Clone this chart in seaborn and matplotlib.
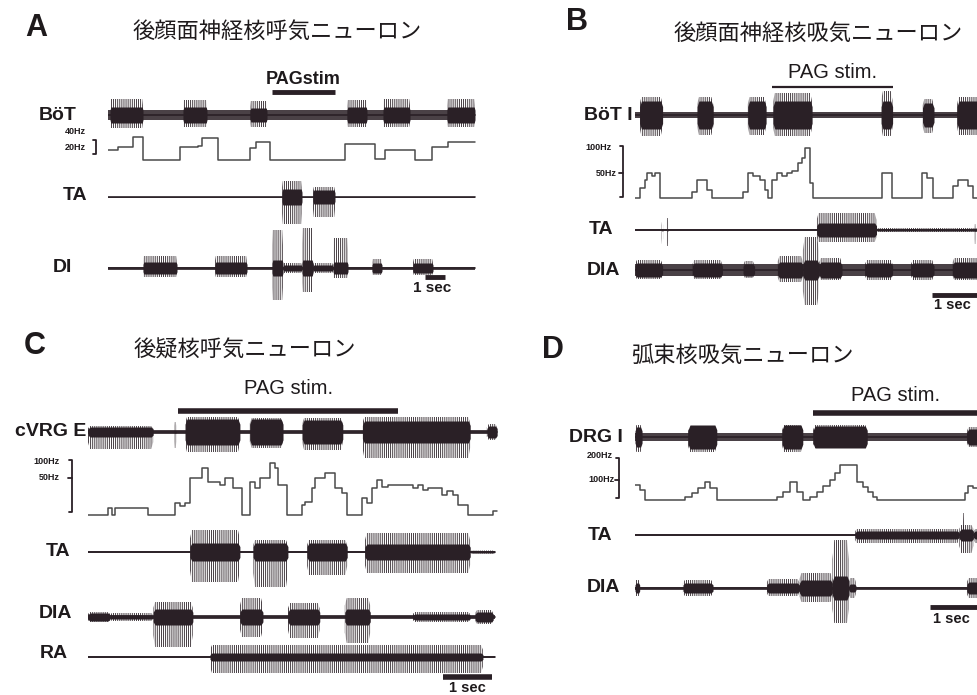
import matplotlib
matplotlib.use("Agg")
import matplotlib.pyplot as plt
import seaborn as sns
import numpy as np

sns.set_theme(style="white")
plt.rcParams['font.family'] = ['Liberation Sans', 'Noto Sans CJK JP', 'DejaVu Sans']
plt.rcParams['hatch.linewidth'] = 0.6

INK = "#2a2026"
GREY = "#4a4a4a"

# ---------------- data (time in s; burst = start, end, body, up, down) -------------
# A: retrofacial expiratory neuron
a_bot = [(0.1, 1.75, 8, 16, 13), (3.75, 4.95, 8, 15, 12), (7.1, 7.95, 7, 14, 12),
         (11.95, 12.95, 8, 15, 12), (13.75, 15.1, 8, 16, 12), (16.95, 18.35, 8, 16, 12)]
a_freq_t = [0, 0.5, 1.25, 1.75, 3.6, 4.5, 4.7, 5.5, 7.1, 7.4, 8.1, 11.85, 13.35,
            13.85, 15.35, 16.2, 17.0, 18.35]
a_freq_hz = [15, 20, 36, 0, 20, 22, 34, 0, 18, 28, 0, 24, 2, 16, 0, 20, 28, 28]
a_ta = [(8.7, 9.7, 8, 16, 27), (10.25, 11.35, 7, 10, 20)]
a_di = [(1.75, 3.45, 6, 12, 9), (5.35, 6.95, 6, 12, 9), (8.2, 8.75, 8, 38, 32),
        (8.75, 9.7, 3, 5, 5), (9.7, 10.25, 8, 40, 24), (10.25, 11.25, 3, 5, 5),
        (11.25, 12.0, 6, 30, 10), (13.2, 13.7, 5, 9, 7), (15.25, 16.25, 5, 9, 7)]
a_stim = (8.2, 11.35)

# B: retrofacial inspiratory neuron
b_bot = [(0.1, 0.6, 14, 18, 21), (1.35, 1.7, 14, 18, 20), (2.45, 2.85, 14, 18, 20),
         (3.0, 3.85, 14, 22, 21), (5.35, 5.6, 14, 24, 21), (6.25, 6.5, 12, 16, 18),
         (7.0, 7.6, 14, 18, 20)]
b_freq_t = [0, 0.11, 0.22, 0.26, 0.37, 0.43, 0.54, 1.24, 1.35, 1.57, 1.67, 2.35, 2.46,
            2.57, 2.72, 2.83, 2.89, 2.98, 3.09, 3.2, 3.3, 3.41, 3.54, 3.63, 3.7, 3.8,
            3.87, 5.37, 5.59, 6.24, 6.35, 6.48, 6.91, 7.02, 7.24, 7.35, 7.6]
b_freq_hz = [0, 20, 36, 50, 44, 50, 0, 13, 36, 16, 0, 12, 50, 44, 36, 16, 0, 36, 50,
             44, 50, 54, 70, 80, 100, 30, 0, 50, 0, 50, 40, 0, 24, 36, 24, 0, 0]
b_ta = [(0.58, 0.61, 1, 8, 14), (0.69, 0.72, 1, 12, 16), (3.95, 5.25, 7, 17, 12),
        (5.25, 7.6, 1, 2, 2), (7.38, 7.41, 1, 6, 14)]
b_dia = [(0.0, 0.6, 7, 10, 9), (1.25, 1.9, 7, 10, 9), (2.35, 2.6, 6, 9, 8),
         (3.1, 3.65, 8, 14, 12), (3.65, 4.0, 10, 33, 35), (4.0, 4.5, 8, 12, 10),
         (5.0, 5.6, 7, 10, 10), (6.0, 6.5, 7, 10, 10), (6.9, 7.6, 8, 12, 10)]
b_stim = (2.98, 5.61)

# C: nucleus ambiguus expiratory neuron
c_vrg = [(0.0, 1.33, 5, 6, 17), (1.76, 1.8, 1, 10, 16), (1.98, 3.1, 13, 15, 20),
         (3.3, 3.98, 13, 14, 16), (4.37, 5.2, 12, 14, 18), (5.6, 7.8, 11, 15, 26),
         (8.14, 8.35, 6, 8, 8)]
c_freq_t = [0, 0.41, 0.49, 0.55, 1.22, 1.78, 1.88, 1.98, 2.08, 2.33, 2.45, 2.69, 2.8,
            2.96, 3.14, 3.31, 3.41, 3.51, 3.71, 3.82, 3.88, 4.06, 4.37, 4.43, 4.57,
            4.63, 4.84, 5.04, 5.18, 5.29, 5.59, 5.69, 5.8, 5.9, 6.0, 6.12, 6.63, 6.73,
            6.84, 6.94, 7.22, 7.33, 7.45, 7.55, 7.76, 8.27, 8.35]
c_freq_hz = [0, 12, 0, 12, 0, 20, 15, 20, 62, 78, 55, 50, 62, 45, 0, 55, 45, 62, 87,
             78, 50, 0, 17, 22, 45, 62, 70, 45, 36, 0, 28, 20, 45, 58, 47, 50, 45, 50,
             42, 45, 33, 40, 33, 17, 0, 6, 6]
c_ta = [(2.08, 3.1, 9, 22, 30), (3.37, 4.08, 9, 12, 35), (4.47, 5.29, 9, 12, 23),
        (5.65, 7.8, 8, 19, 21), (7.8, 8.3, 1, 1.5, 1.5)]
c_dia = [(0.0, 0.45, 4, 5, 5), (0.45, 1.33, 2, 4, 4), (1.33, 2.14, 8, 15, 30),
         (3.1, 3.57, 8, 19, 20), (4.08, 4.73, 8, 14, 21), (5.24, 5.76, 8, 19, 26),
         (6.63, 7.8, 3, 5, 5), (7.9, 8.27, 5, 7, 7)]
c_ra = [(2.49, 8.06, 4, 12, 16)]
c_stim = (1.84, 6.33)

# D: solitary tract nucleus inspiratory neuron
d_drg = [(0.0, 0.15, 10, 12, 15), (1.13, 1.74, 12, 10, 15), (3.13, 3.57, 12, 12, 15),
         (3.79, 4.94, 11, 12, 11), (7.06, 7.6, 8, 10, 10)]
d_freq_t = [0, 0.11, 0.21, 1.06, 1.21, 1.34, 1.49, 1.6, 1.74, 3.02, 3.15, 3.3, 3.45,
            3.57, 3.72, 3.87, 4.0, 4.15, 4.26, 4.36, 4.72, 4.85, 4.96, 5.06, 5.15,
            7.02, 7.09, 7.19, 7.6]
d_freq_hz = [75, 50, 0, 17, 33, 58, 88, 58, 0, 17, 42, 88, 42, 0, 17, 42, 70, 100,
             133, 175, 92, 67, 42, 17, 0, 33, 70, 58, 58]
d_ta = [(4.68, 6.9, 4, 6, 8), (6.9, 7.2, 6, 10, 18), (6.98, 7.01, 1, 22, 6),
        (7.2, 7.6, 4, 6, 8)]
d_dia = [(0.0, 0.1, 5, 8, 8), (1.02, 1.66, 5, 8, 8), (2.8, 3.5, 5, 9, 8),
         (3.5, 4.2, 8, 15, 14), (4.2, 4.55, 12, 48, 35), (4.55, 4.7, 4, 10, 10),
         (7.06, 7.6, 6, 10, 10)]
d_stim = (3.79, 7.6)

# ---------------- figure ----------------
W, H = 977, 695
fig = plt.figure(figsize=(W / 100, H / 100), dpi=100)
fig.patch.set_facecolor("white")


def px(x, y):
    return x / W, 1 - y / H


def panel_axes(x0, x1, pps, top, bottom):
    ax = fig.add_axes([x0 / W, 1 - bottom / H, (x1 - x0) / W, (bottom - top) / H])
    ax.set_xlim(0, (x1 - x0) / pps)
    ax.set_ylim(bottom, top)
    ax.axis("off")
    return ax


def trace(ax, row, t_end, base, bursts):
    sns.lineplot(x=[0, t_end], y=[row, row], ax=ax, color=INK, lw=1.2,
                 estimator=None, sort=False)
    ax.fill_between([0, t_end], row - base, row + base, color=INK, lw=0, alpha=0.85)
    for t0, t1, body, up, down in bursts:
        r = min(0.04, (t1 - t0) / 5)
        xs = [t0, t0 + r, t1 - r, t1]
        k = np.array([0.6, 1, 1, 0.6])
        ax.fill_between(xs, row - up * k, row + down * k, facecolor="none",
                        edgecolor=INK, hatch="||||||||", lw=0)
        ax.fill_between(xs, row - body * k, row + body * k, color=INK, lw=0)


def freq(ax, row, gain, t, hz):
    sns.lineplot(x=t, y=row - gain * np.array(hz), ax=ax, drawstyle="steps-post",
                 color=GREY, lw=1.1, estimator=None, sort=False)


def bar(ax, t0, t1, row, lw):
    ax.plot([t0, t1], [row, row], color=INK, lw=lw, solid_capstyle="butt")


def label(x, y, s, size=14, ha="right", weight="bold", family=None):
    kw = dict(ha=ha, va="center", fontsize=size, fontweight=weight, color="#1e1a1c")
    if family:
        kw["family"] = family
    fig.text(*px(x, y), s, **kw)


def bracket(x, y0, y1, ytick=None):
    xs, ys = px(x, y0), px(x, y1)
    fig.add_artist(plt.Line2D([xs[0] - 0.003, xs[0], xs[0], xs[0] - 0.003],
                              [xs[1], xs[1], ys[1], ys[1]], color=INK, lw=1.3))
    if ytick is not None:
        t = px(x, ytick)
        fig.add_artist(plt.Line2D([t[0] - 0.004, t[0]], [t[1], t[1]], color=INK, lw=1.3))


CJK = ["Noto Sans CJK JP", "DejaVu Sans"]

# ---- Panel A ----
axA = panel_axes(108, 480, 20, 60, 310)
trace(axA, 115, 18.35, 5, a_bot)
freq(axA, 160, 0.65, a_freq_t, a_freq_hz)
trace(axA, 197, 18.35, 0.5, a_ta)
trace(axA, 268, 18.35, 1.5, a_di)
bar(axA, *a_stim, 92, 3.5)
axA.text(sum(a_stim) / 2, 80, "PAGstim", ha="center", va="center", fontsize=13,
         fontweight="bold", color="#1e1a1c")
bar(axA, 15.85, 16.85, 277, 3.5)
axA.text(16.2, 288, "1 sec", ha="center", va="center", fontsize=11,
         fontweight="bold", color="#1e1a1c")
label(36, 28, "A", size=22, ha="center")
label(277, 31, "後顔面神経核呼気ニューロン", size=16, ha="center", weight="normal", family=CJK)
label(77, 115, "BöT")
label(86, 132, "40Hz", size=6.5)
label(86, 147, "20Hz", size=6.5)
bracket(96, 140, 154)
label(87, 196, "TA")
label(72, 268, "DI")

# ---- Panel B ----
axB = panel_axes(635, 977, 46, 60, 310)
trace(axB, 115, 7.6, 3, b_bot)
freq(axB, 198, 0.5, b_freq_t, b_freq_hz)
trace(axB, 230, 7.6, 0.6, b_ta)
trace(axB, 270, 7.6, 6, b_dia)
bar(axB, *b_stim, 87, 1.6)
axB.text(sum(b_stim) / 2, 72, "PAG stim.", ha="center", va="center", fontsize=14.5,
         color="#1e1a1c")
bar(axB, 6.46, 7.6, 295, 3.5)
axB.text(6.5, 305, "1 sec", ha="left", va="center", fontsize=10.5,
         fontweight="bold", color="#1e1a1c")
label(577, 22, "B", size=22, ha="center")
label(818, 33, "後顔面神経核吸気ニューロン", size=16, ha="center", weight="normal", family=CJK)
label(633, 115, "BöT I")
label(612, 147, "100Hz", size=6.5)
label(617, 173, "50Hz", size=6.5)
bracket(623, 146, 197, 173)
label(613, 230, "TA")
label(620, 271, "DIA")

# ---- Panel C ----
axC = panel_axes(88, 500, 49, 330, 695)
trace(axC, 432, 8.35, 2, c_vrg)
freq(axC, 515, 0.6, c_freq_t, c_freq_hz)
trace(axC, 552, 8.3, 0.6, c_ta)
trace(axC, 617, 8.3, 2, c_dia)
trace(axC, 657, 8.3, 1.2, c_ra)
bar(axC, *c_stim, 411, 4)
axC.text(sum(c_stim) / 2, 388, "PAG stim.", ha="center", va="center", fontsize=14.5,
         color="#1e1a1c")
bar(axC, 7.24, 8.24, 677, 4)
axC.text(7.74, 688, "1 sec", ha="center", va="center", fontsize=10.5,
         fontweight="bold", color="#1e1a1c")
label(35, 346, "C", size=22, ha="center")
label(245, 350, "後疑核呼気ニューロン", size=16, ha="center", weight="normal", family=CJK)
label(86, 432, "cVRG E")
label(60, 461, "100Hz", size=6.5)
label(60, 478, "50Hz", size=6.5)
bracket(72, 460, 512, 478)
label(70, 552, "TA")
label(72, 614, "DIA")
label(68, 654, "RA")

# ---- Panel D ----
axD = panel_axes(635, 977, 47, 330, 695)
trace(axD, 437, 7.6, 4, d_drg)
freq(axD, 500, 0.2, d_freq_t, d_freq_hz)
trace(axD, 535, 7.6, 1.2, d_ta)
trace(axD, 588, 7.6, 1.5, d_dia)
bar(axD, *d_stim, 413, 4)
axD.text(5.55, 395, "PAG stim.", ha="center", va="center", fontsize=14.5,
         color="#1e1a1c")
bar(axD, 6.28, 7.6, 607, 3.5)
axD.text(6.35, 619, "1 sec", ha="left", va="center", fontsize=10.5,
         fontweight="bold", color="#1e1a1c")
label(553, 350, "D", size=22, ha="center")
label(742, 355, "弧束核吸気ニューロン", size=16, ha="center", weight="normal", family=CJK)
label(623, 437, "DRG I")
label(613, 456, "200Hz", size=6.5)
label(615, 480, "100Hz", size=6.5)
bracket(619, 458, 498, 480)
label(612, 535, "TA")
label(620, 587, "DIA")

fig.savefig("out.png", dpi=100, facecolor="white")
